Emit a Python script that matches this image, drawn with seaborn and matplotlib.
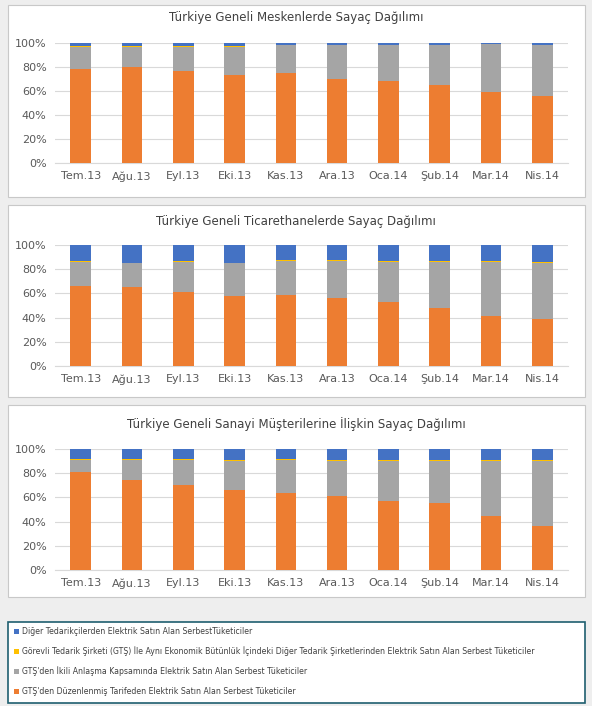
import matplotlib
matplotlib.use("Agg")
import matplotlib.pyplot as plt
import seaborn as sns
import pandas as pd
import numpy as np
from matplotlib.patches import Rectangle
from matplotlib.ticker import PercentFormatter

months = ["Tem.13","Ağu.13","Eyl.13","Eki.13","Kas.13","Ara.13","Oca.14","Şub.14","Mar.14","Nis.14"]
titles = ["Türkiye Geneli Meskenlerde Sayaç Dağılımı",
          "Türkiye Geneli Ticarethanelerde Sayaç Dağılımı",
          "Türkiye Geneli Sanayi Müşterilerine İlişkin Sayaç Dağılımı"]
series_names = ["Diğer Tedarikçilerden Elektrik Satın Alan SerbestTüketiciler",
                "Görevli Tedarik Şirketi (GTŞ) İle Aynı Ekonomik Bütünlük İçindeki Diğer Tedarik Şirketlerinden Elektrik Satın Alan Serbest Tüketiciler",
                "GTŞ'den İkili Anlaşma Kapsamında Elektrik Satın Alan Serbest Tüketiciler",
                "GTŞ'den Düzenlenmiş Tarifeden Elektrik Satın Alan Serbest Tüketiciler"]
colors = ["#4472C4", "#FFC000", "#A5A5A5", "#ED7D31"]

mesken_tarife = [78, 80, 77, 73, 75, 70, 68, 65, 59, 56]
mesken_ikili  = [19, 17, 20, 24, 23, 28, 30, 33, 40, 42.3]
mesken_grup   = [0.1, 0.1, 0.1, 0.1, 0.1, 0.1, 0.1, 0.1, 0.1, 0.1]
ticaret_tarife = [66, 65, 61, 58, 59, 56, 53, 48, 41, 39]
ticaret_ikili  = [20, 20, 25, 27, 28, 31, 33, 38, 45, 46]
ticaret_grup   = [0.4, 0.4, 0.4, 0.4, 0.4, 0.4, 0.4, 0.4, 0.4, 0.6]
sanayi_tarife = [81, 74, 70, 66, 64, 61, 57, 55, 45, 36]
sanayi_ikili  = [10, 17, 21, 24, 27, 29, 33, 35, 45, 54]
sanayi_grup   = [1, 1, 1, 1, 1, 1, 1, 1, 1, 1]

panels = [(mesken_tarife, mesken_ikili, mesken_grup),
          (ticaret_tarife, ticaret_ikili, ticaret_grup),
          (sanayi_tarife, sanayi_ikili, sanayi_grup)]

W, H = 592, 706
fig = plt.figure(figsize=(W/100, H/100), dpi=100)
fig.patch.set_facecolor("#EEEEEE")

def px(x0, y0, x1, y1):
    return [x0/W, 1-y1/H, (x1-x0)/W, (y1-y0)/H]

boxes = [(8, 5, 585, 197), (8, 205, 585, 397), (8, 405, 585, 597)]
plot_y = [(43, 163), (245, 366), (449, 570)]
title_y = [18, 222, 424]

for i, (tar, iki, grp) in enumerate(panels):
    bx = boxes[i]
    fig.add_artist(Rectangle((bx[0]/W, 1-bx[3]/H), (bx[2]-bx[0])/W, (bx[3]-bx[1])/H,
                             transform=fig.transFigure, facecolor="white", edgecolor="#C8C8C8", lw=0.8, zorder=0))
    ax = fig.add_axes(px(55, plot_y[i][0], 568, plot_y[i][1]))
    tar = np.array(tar, float); iki = np.array(iki, float); grp = np.array(grp, float)
    layers = [np.full(10, 100.0), tar + iki + grp, tar + iki, tar]
    for vals, c in zip(layers, colors):
        df = pd.DataFrame({"Ay": months, "v": vals})
        sns.barplot(data=df, x="Ay", y="v", color=c, width=0.4, ax=ax, saturation=1, zorder=3)
    ax.set_ylim(0, 100)
    ax.set_yticks(range(0, 101, 20))
    ax.yaxis.set_major_formatter(PercentFormatter(decimals=0))
    ax.grid(axis="y", color="#D9D9D9", lw=0.8, zorder=0)
    ax.set_axisbelow(True)
    ax.set_xlabel(""); ax.set_ylabel("")
    for s in ["top", "right", "left"]:
        ax.spines[s].set_visible(False)
    ax.spines["bottom"].set_color("#D9D9D9")
    ax.tick_params(length=0, labelsize=8, colors="#595959", pad=6)
    ax.set_facecolor("none")
    fig.text(0.5, 1-title_y[i]/H, titles[i], ha="center", va="center", fontsize=8.5, color="#404040")

fig.add_artist(Rectangle((8/W, 1-703/H), 577/W, 81/H, transform=fig.transFigure,
                         facecolor="white", edgecolor="#1F5F6F", lw=1.2, zorder=0))
for k, (name, c) in enumerate(zip(series_names, colors)):
    y = 1 - (631 + k*20)/H
    fig.add_artist(Rectangle((14/W, y-2.5/H), 5/W, 5/H, transform=fig.transFigure, facecolor=c, edgecolor="none"))
    fig.text(22/W, y, name, ha="left", va="center", fontsize=5.6, color="#404040")

fig.savefig("out.png", dpi=100, facecolor=fig.get_facecolor())
